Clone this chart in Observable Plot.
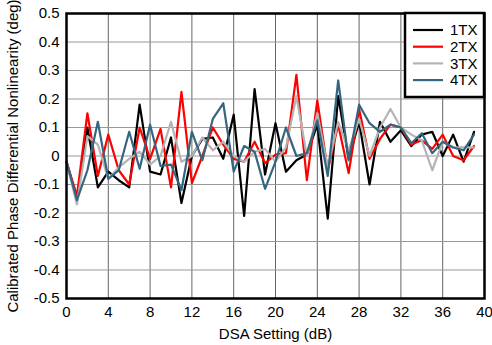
<!DOCTYPE html>
<html><head><meta charset="utf-8">
<script src="https://cdn.jsdelivr.net/npm/d3@7"></script>
<script src="https://cdn.jsdelivr.net/npm/@observablehq/plot@0.6"></script>
<style>body{margin:0;background:#fff}</style>
</head><body><div id="chart"></div><script>
const dsa = [0,1,2,3,4,5,6,7,8,9,10,11,12,13,14,15,16,17,18,19,20,21,22,23,24,25,26,27,28,29,30,31,32,33,34,35,36,37,38,39];
const tx1 = [-0.02,-0.15,0.10,-0.11,-0.055,-0.085,-0.11,0.18,-0.055,-0.065,0.065,-0.165,0.0,0.06,0.065,-0.01,0.145,-0.21,0.235,-0.065,0.115,-0.055,-0.015,0.005,0.11,-0.22,0.21,-0.01,0.12,-0.1,0.12,0.05,0.09,0.035,0.075,0.085,0.0,0.075,-0.02,0.085];
const tx2 = [-0.02,-0.14,0.15,-0.07,0.075,-0.05,-0.1,0.1,-0.01,0.095,-0.11,0.225,-0.095,0.0,0.1,0.04,-0.01,-0.02,0.05,-0.025,0.005,0.01,0.285,-0.085,0.195,-0.05,0.11,-0.06,0.165,-0.01,0.06,0.11,0.1,0.04,0.055,0.025,0.075,0.0,-0.015,0.035];
const tx3 = [-0.02,-0.17,0.07,0.04,-0.08,-0.04,-0.01,0.015,-0.03,0.0,0.12,-0.02,0.0,0.065,0.02,0.05,0.0,-0.02,0.015,0.025,-0.02,0.03,0.21,0.0,0.15,-0.04,0.12,0.02,0.13,0.0,0.1,0.165,0.1,0.075,0.055,-0.05,0.05,0.03,0.03,0.03];
const tx4 = [-0.02,-0.155,-0.05,0.12,-0.08,-0.05,0.085,-0.045,0.11,-0.035,-0.03,-0.12,0.085,-0.015,0.13,0.185,-0.055,0.035,0.015,-0.115,-0.02,0.1,0.0,0.01,0.125,-0.07,0.265,-0.015,0.18,0.115,0.085,0.11,0.1,0.045,0.08,0.01,0.05,0.03,0.02,0.075];
const names = ["1TX","2TX","3TX","4TX"];
const colors = ["#000000","#ff0000","#b4b4b4","#356680"];
const xTicks = [0,4,8,12,16,20,24,28,32,36,40];
const yTicks = [-0.5,-0.4,-0.3,-0.2,-0.1,0,0.1,0.2,0.3,0.4,0.5];

const series = [tx1,tx2,tx3,tx4];
const data = names.flatMap((name,i)=>dsa.map((x,j)=>({x, y: series[i][j], name})));

const chart = Plot.plot({
  width:492, height:345, marginLeft:66, marginRight:8, marginTop:13, marginBottom:47,
  style:{fontFamily:"'Liberation Sans', Arial, sans-serif", fontSize:"15px", background:"#fff", color:"#000"},
  x:{domain:[0,40]},
  y:{domain:[-0.5,0.5]},
  color:{domain:names, range:colors},
  marks:[
    Plot.gridX(xTicks,{stroke:"#666", strokeOpacity:1}),
    Plot.gridY(yTicks,{stroke:"#999", strokeOpacity:1}),
    Plot.axisX(xTicks,{tickSize:0, tickPadding:8, fontSize:15, label:"DSA Setting (dB)", labelAnchor:"center", labelOffset:40, labelArrow:"none"}),
    Plot.axisY(yTicks,{tickSize:0, tickPadding:7, fontSize:15, tickFormat:d=>d===0?"0":d.toFixed(1), label:"Calibrated Phase Differential Nonlinearity (deg)", labelAnchor:"center", labelOffset:59, labelArrow:"none"}),
    Plot.line(data,{x:"x", y:"y", z:"name", stroke:"name", strokeWidth:2.2}),
    Plot.frame({stroke:"#000", strokeWidth:2.5})
  ]
});
document.getElementById("chart").appendChild(chart);

// legend inside plot, top-right
const svg = d3.select(chart);
const lg = svg.append("g").attr("transform","translate(405,13)");
lg.append("rect").attr("x",0).attr("y",0).attr("width",79).attr("height",84)
  .attr("fill","#fff").attr("stroke","#000").attr("stroke-width",2.5);
names.forEach((n,i)=>{
  const y = 17 + i*16.7;
  lg.append("line").attr("x1",8).attr("x2",38).attr("y1",y).attr("y2",y)
    .attr("stroke",colors[i]).attr("stroke-width",2.2);
  lg.append("text").attr("x",45).attr("y",y).attr("dy","0.35em")
    .attr("text-anchor","start")
    .attr("font-family","'Liberation Sans', Arial, sans-serif").attr("font-size","15px")
    .attr("fill","#000").text(n);
});
</script></body></html>
